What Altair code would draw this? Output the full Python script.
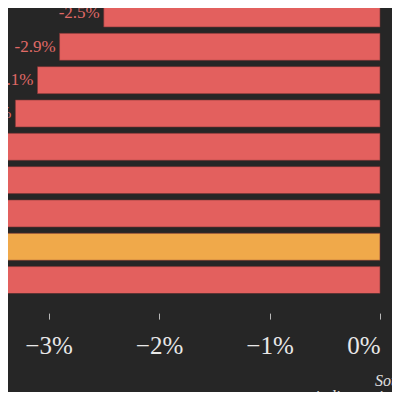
import altair as alt
import pandas as pd

# Data (the reference is a crop: bars 5-9 run past the left edge)
categories = ["Pays 1", "Pays 2", "Pays 3", "Pays 4", "Pays 5", "Pays 6", "Pays 7", "Pays 8", "Pays 9"]
values_pct = [-2.5, -2.9, -3.1, -3.3, -3.5, -3.7, -3.9, -4.1, -4.6]
highlight = [False, False, False, False, False, False, False, True, False]
tick_values = [-0.03, -0.02, -0.01, 0.0]
source_line1 = "Source : Eurostat,"
source_line2 = "indices saisonnalisés"

df = pd.DataFrame({
    "cat": categories,
    "value": [v / 100 for v in values_pct],
    "label": [f"{v:.1f}%" for v in values_pct],
    "hl": ["oui" if h else "non" for h in highlight],
})

BG = "#262626"
RED = "#e3605e"
ORANGE = "#f0a94a"

# page = 8 + svg coordinate; the svg is kept at 384x384 so the page does not overflow
x_scale = alt.Scale(domain=[-0.03439, 0], range=[-8, 372], nice=False, zero=False)
y_scale = alt.Scale(domain=categories, range=[-8, 285.6], paddingInner=0.19, paddingOuter=0)

bars = alt.Chart(df).mark_bar(clip=True, stroke="#7a3434", strokeWidth=0.6).encode(
    x=alt.X("value:Q", scale=x_scale,
            axis=alt.Axis(values=tick_values, format=".0%", title=None, domain=False, grid=False,
                          ticks=True, tickSize=6, tickColor="#b8b8b8", tickWidth=1, offset=19.5,
                          labelFont="Liberation Serif", labelFontSize=25, labelColor="#e8e8e8",
                          labelPadding=14)),
    x2=alt.datum(0),
    y=alt.Y("cat:N", scale=y_scale, axis=None),
    color=alt.Color("hl:N", scale=alt.Scale(domain=["non", "oui"], range=[RED, ORANGE]), legend=None),
)

labels = alt.Chart(df).mark_text(align="right", baseline="middle", dx=-4,
                                  font="Liberation Serif", fontSize=17, color="#e06a66").encode(
    x=alt.X("value:Q", scale=x_scale),
    y=alt.Y("cat:N", scale=y_scale),
    text="label:N",
)

src = pd.DataFrame({"t": [source_line1, source_line2], "px": [367, 307], "py": [373, 389]})
source = alt.Chart(src).mark_text(align="left", baseline="middle", font="Liberation Serif",
                                   fontSize=16, fontStyle="italic", color="#e0e0e0").encode(
    x=alt.X("px:Q", scale=None),
    y=alt.Y("py:Q", scale=None),
    text="t:N",
)

chart = alt.layer(bars, labels, source).properties(
    width=384, height=285.6,
    autosize=alt.AutoSizeParams(type="none"),
    padding={"left": 0, "top": 0, "right": 0, "bottom": 98.4},
    background=BG,
).configure_view(strokeWidth=0)

chart.save("out.html", embed_options={"renderer": "svg", "actions": False})
